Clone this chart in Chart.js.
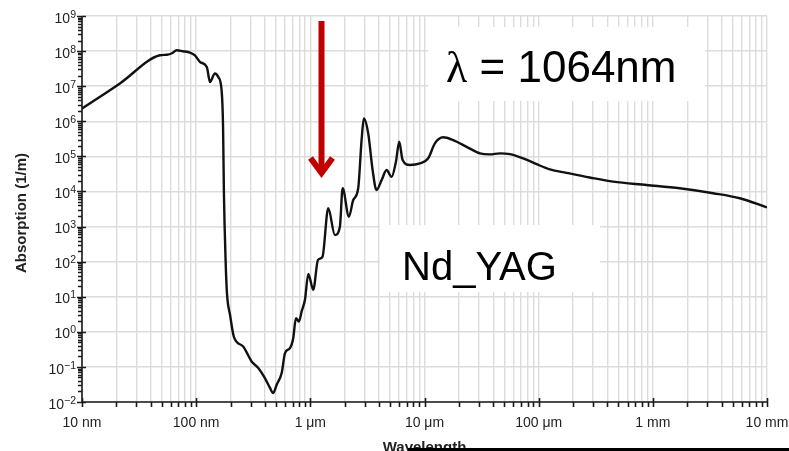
<!DOCTYPE html>
<html>
<head>
<meta charset="utf-8">
<title>Absorption vs wavelength</title>
<script src="https://cdn.jsdelivr.net/npm/chart.js@4.4.1/dist/chart.umd.min.js"></script>
<style>
  html, body { margin: 0; padding: 0; background: #fff; }
  canvas { display: block; }
</style>
</head>
<body>
<canvas id="absChart" width="789" height="451"></canvas>
<script>
// Absorption coefficient (1/m) against wavelength (nm)
const wavelengthNm = [
  10, 21.5, 48.2, 55.5, 61.4, 67.5, 76.6, 88.3, 97.5, 108,
  124, 132, 146, 156, 167, 172, 175, 181, 186, 198,
  214, 258, 306, 350, 400, 442, 473, 507, 561, 600,
  663, 708, 748, 795, 839, 897, 960, 1060, 1166, 1277,
  1435, 1641, 1815, 1918, 2178, 2376, 2626, 2811, 2944, 3214,
  3513, 3795, 4210, 4654, 5148, 5620, 6004, 6430, 7447, 9114,
  10780, 12330, 14580, 17830, 23380, 30570, 37400, 45710, 55950, 73160,
  95900, 125000, 175000, 280000, 449000, 880000, 1720000, 3370000, 5780000, 10000000
];
const absorption = [
  2.3e6, 1.2e7, 7.6e7, 7.9e7, 8.7e7, 1.06e8, 9.9e7, 9.1e7, 7.6e7, 4.9e7,
  3.54e7, 1.32e7, 2.3e7, 1.84e7, 7.7e6, 7.0e5, 9.0e3, 112, 12.9, 3.05,
  0.72, 0.38, 0.143, 0.093, 0.048, 0.0256, 0.018, 0.031, 0.067, 0.248,
  0.345, 0.66, 2.46, 1.97, 3.8, 8.2, 44.8, 15.7, 112, 136,
  3320, 577, 993, 1.23e4, 1910, 5720, 1.23e4, 2.9e5, 1.2e6, 4.5e5,
  4.07e4, 1.1e4, 2.1e4, 4.07e4, 2.6e4, 7.0e4, 2.6e5, 7.9e4, 5.7e4, 6.3e4,
  8.8e4, 2.35e5, 3.5e5, 2.9e5, 1.87e5, 1.22e5, 1.14e5, 1.22e5, 1.16e5, 8.8e4,
  6.0e4, 4.27e4, 3.4e4, 2.5e4, 1.9e4, 1.53e4, 1.23e4, 8.9e3, 6.4e3, 3.5e3
];

// Axis decades and their labels
const xTickValues = [10, 100, 1000, 1e4, 1e5, 1e6, 1e7];
const xTickLabels = ['10 nm', '100 nm', '1 \u03bcm', '10 \u03bcm', '100 \u03bcm', '1 mm', '10 mm'];
const yExponents = [-2, -1, 0, 1, 2, 3, 4, 5, 6, 7, 8, 9];

const SANS = "'Liberation Sans', Arial, sans-serif";
const SERIF = "'Liberation Serif', 'Times New Roman', serif";

// decade ticks plus 2..9 minor ticks between them
function logTicks(decades) {
  const out = [];
  decades.forEach((d, i) => {
    out.push({ value: d, major: true });
    if (i < decades.length - 1) {
      for (let k = 2; k <= 9; k++) out.push({ value: d * k, major: false });
    }
  });
  return out;
}

const axisDecor = {
  id: 'axisDecor',
  afterDraw(chart) {
    const { ctx, chartArea: a, scales: { x, y } } = chart;
    ctx.save();

    // axis lines and tick marks
    ctx.strokeStyle = '#1a1a1a';
    ctx.lineWidth = 1.6;
    ctx.beginPath();
    ctx.moveTo(a.left, a.top);
    ctx.lineTo(a.left, a.bottom);
    ctx.lineTo(a.right, a.bottom);
    x.ticks.forEach(t => {
      const px = Math.round(x.getPixelForValue(t.value)) + 0.5;
      ctx.moveTo(px, t.major ? a.bottom - 4 : a.bottom);
      ctx.lineTo(px, a.bottom + 5);
    });
    y.ticks.forEach(t => {
      const py = Math.round(y.getPixelForValue(t.value)) + 0.5;
      ctx.moveTo(t.major ? a.left - 5 : a.left - 4, py);
      ctx.lineTo(t.major ? a.left + 4 : a.left, py);
    });
    ctx.stroke();

    // x tick labels
    ctx.fillStyle = '#222';
    ctx.font = '14px ' + SANS;
    ctx.textAlign = 'center';
    ctx.textBaseline = 'alphabetic';
    xTickValues.forEach((v, i) => {
      ctx.fillText(xTickLabels[i], x.getPixelForValue(v), a.bottom + 25);
    });

    // y tick labels as 10 with a raised exponent
    yExponents.forEach(e => {
      const py = y.getPixelForValue(Math.pow(10, e));
      const sup = e < 0 ? '\u2212' + Math.abs(e) : String(e);
      ctx.font = '10.5px ' + SANS;
      const wSup = ctx.measureText(sup).width;
      const right = a.left - 6;
      ctx.textAlign = 'left';
      ctx.fillText(sup, right - wSup, py + 1.6);
      ctx.font = '14px ' + SANS;
      ctx.textAlign = 'right';
      ctx.fillText('10', right - wSup, py + 6.6);
    });

    // axis titles
    ctx.font = 'bold 15px ' + SANS;
    ctx.fillStyle = '#222';
    ctx.textAlign = 'center';
    ctx.save();
    ctx.translate(26, (a.top + a.bottom) / 2 + 4);
    ctx.rotate(-Math.PI / 2);
    ctx.fillText('Absorption (1/m)', 0, 0);
    ctx.restore();
    ctx.fillText('Wavelength', (a.left + a.right) / 2, 452);

    // label boxes
    ctx.fillStyle = '#fff';
    ctx.fillRect(428, 27, 277, 74);
    ctx.fillRect(380, 225, 220, 67);
    ctx.fillStyle = '#000';
    ctx.textAlign = 'left';
    ctx.font = '44px ' + SERIF;
    ctx.fillText('\u03bb', 446, 82);
    const lw = ctx.measureText('\u03bb').width;
    ctx.font = '44px ' + SANS;
    ctx.fillText(' = 1064nm', 446 + lw, 82);
    ctx.font = '40px ' + SANS;
    ctx.fillText('Nd_YAG', 402, 280);

    // red arrow
    ctx.strokeStyle = '#c00000';
    ctx.lineWidth = 6;
    ctx.lineCap = 'butt';
    ctx.lineJoin = 'miter';
    ctx.beginPath();
    ctx.moveTo(321.5, 21);
    ctx.lineTo(321.5, 170);
    ctx.stroke();
    ctx.beginPath();
    ctx.moveTo(310.5, 158);
    ctx.lineTo(321.5, 173);
    ctx.lineTo(332.5, 158);
    ctx.stroke();

    // frame edge at the bottom
    ctx.fillStyle = '#000';
    ctx.fillRect(408, 448, 381, 3);

    ctx.restore();
  }
};

new Chart(document.getElementById('absChart'), {
  type: 'line',
  data: {
    datasets: [{
      data: wavelengthNm.map((w, i) => ({ x: w, y: absorption[i] })),
      borderColor: '#111',
      borderWidth: 2.4,
      pointRadius: 0,
      fill: false,
      cubicInterpolationMode: 'monotone'
    }]
  },
  options: {
    responsive: false,
    animation: false,
    events: [],
    layout: { padding: { left: 0, right: 22, top: 16, bottom: 0 } },
    plugins: { legend: { display: false }, tooltip: { enabled: false } },
    scales: {
      x: {
        type: 'logarithmic',
        min: 10,
        max: 1e7,
        afterBuildTicks: s => { s.ticks = logTicks(xTickValues); },
        afterFit: s => { s.height = 49; s.paddingLeft = 0; s.paddingRight = 0; },
        ticks: { display: false },
        border: { display: false },
        grid: { color: '#dcdcdc', lineWidth: 1.4, drawTicks: false }
      },
      y: {
        type: 'logarithmic',
        min: 1e-2,
        max: 1e9,
        afterBuildTicks: s => { s.ticks = logTicks(yExponents.map(e => Math.pow(10, e))); },
        afterFit: s => { s.width = 82; s.paddingTop = 0; s.paddingBottom = 0; },
        ticks: { display: false },
        border: { display: false },
        grid: {
          color: c => (c.tick && c.tick.major ? '#dcdcdc' : 'rgba(0,0,0,0)'),
          lineWidth: 1.4,
          drawTicks: false
        }
      }
    }
  },
  plugins: [axisDecor]
});
</script>
</body>
</html>
